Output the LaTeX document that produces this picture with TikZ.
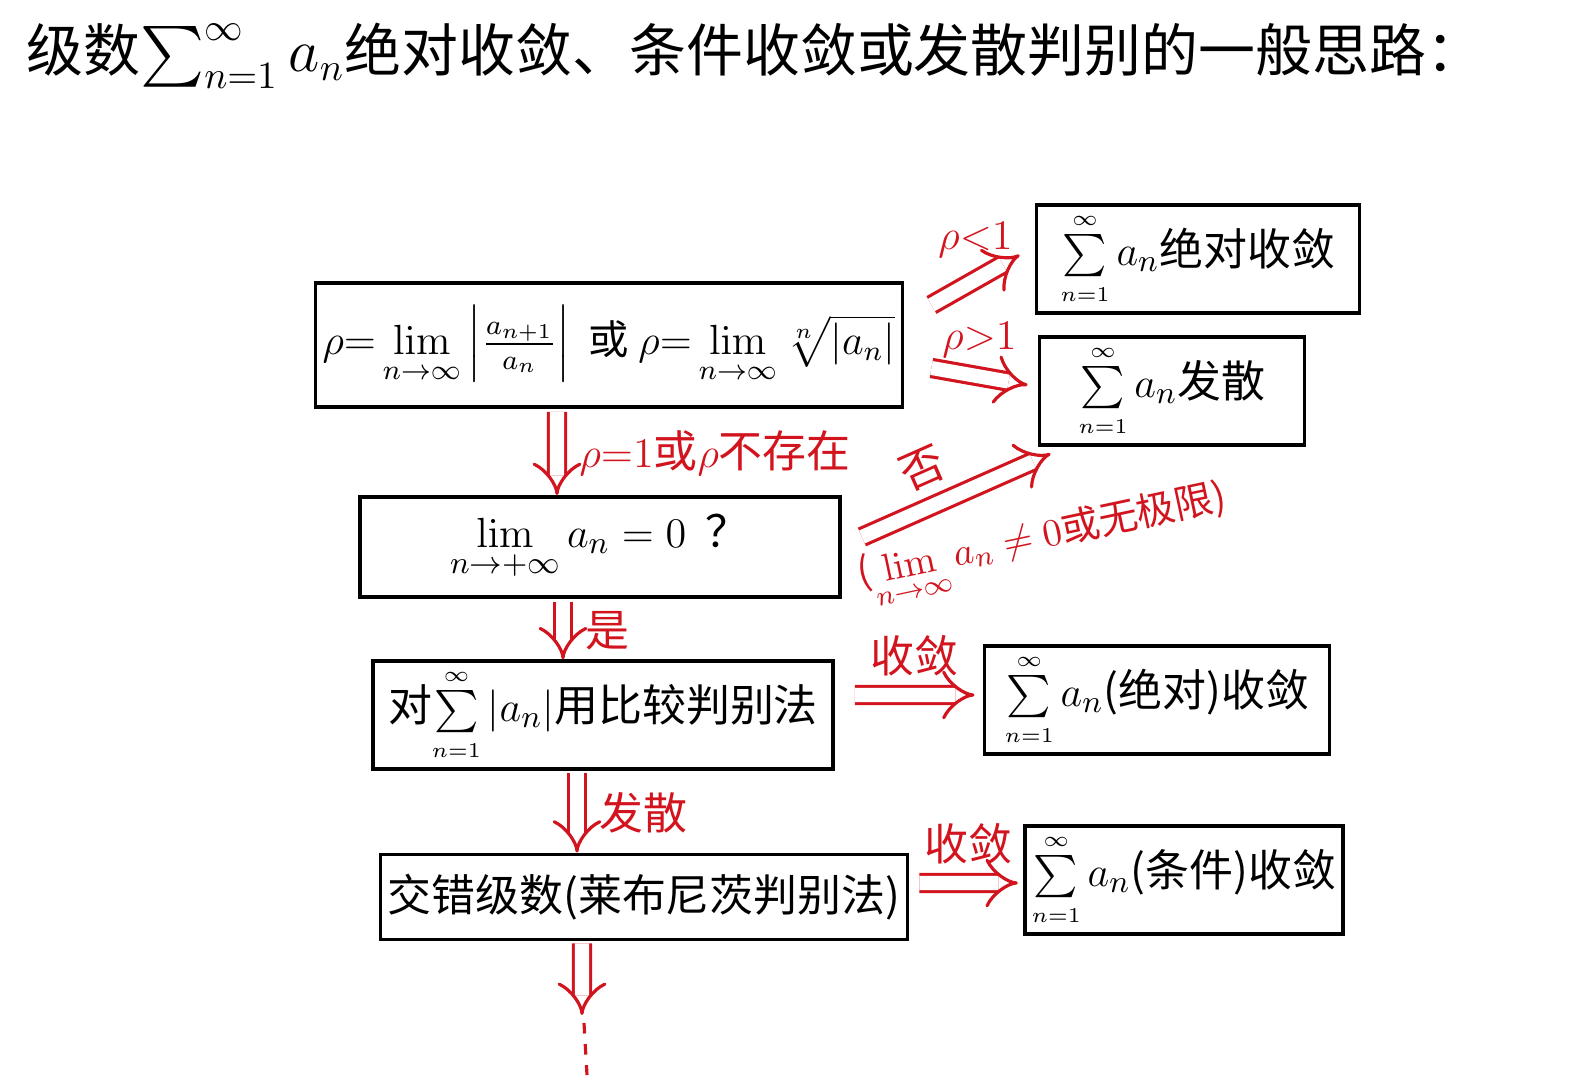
\documentclass[tikz,border=0pt]{standalone}
\usepackage{amsmath}
\usepackage[no-math]{fontspec}
\setmainfont{Noto Sans CJK SC}
\usetikzlibrary{arrows.meta,calc}
\definecolor{penred}{RGB}{210,20,30}
\newcommand\bxfont{\fontsize{12.5}{15}\selectfont}
\newcommand\lbfont{\fontsize{12.5}{15}\selectfont}
\newcommand\ssum{\mathop{\textstyle\sum}\limits_{\scriptscriptstyle n=1}^{\scriptscriptstyle\infty}}

\begin{document}
\begin{tikzpicture}[
  box/.style={draw,line width=1.1pt,inner sep=2pt,font=\bxfont},
  imp/.style={draw=penred,double,double distance=4pt,line width=0.9pt,-{Implies}},
  lbl/.style={text=penred,font=\lbfont,inner sep=2pt}]
  \useasboundingbox (0,0) rectangle (15.69,-10.81);
  % title
  \node[anchor=west,font=\fontsize{16.2}{20}\selectfont] (title) at (0.14,-0.56)
    {级数$\sum_{n=1}^{\infty}a_n$绝对收敛、条件收敛或发散判别的一般思路：};
  % main column
  \node[box,minimum width=5.68cm,minimum height=1.24cm,font=\fontsize{11.5}{14}\selectfont] (ratio) at (6.09,-3.45)
    {$\rho{=}\lim\limits_{n\to\infty}\left|\frac{a_{n+1}}{a_n}\right|$ \ 或 $\rho{=}\lim\limits_{n\to\infty}\sqrt[n]{|a_n|}$};
  \node[box,minimum width=4.80cm,minimum height=1.00cm] (lim) at (6.00,-5.47)
    {$\lim\limits_{n\to+\infty}a_n=0$ \ ？\hspace{1.5cm}};
  \node[box,minimum width=4.60cm,minimum height=0.95cm] (cmp) at (6.03,-7.15)
    {对$\ssum|a_n|$用比较判别法};
  \node[box,minimum width=5.18cm,minimum height=0.85cm] (alt) at (6.44,-8.97)
    {交错级数(莱布尼茨判别法)};
  % results
  \node[box,minimum width=3.23cm,minimum height=0.96cm] (abs1) at (11.98,-2.59)
    {$\ssum a_n$绝对收敛};
  \node[box,minimum width=2.65cm,minimum height=1.03cm] (div) at (11.72,-3.91)
    {$\ssum a_n$发散\hspace{0.3cm}};
  \node[box,minimum width=3.45cm,minimum height=0.85cm] (abs2) at (11.57,-7.00)
    {$\ssum a_n$(绝对)收敛};
  \node[box,minimum width=2.98cm,minimum height=0.86cm] (cond) at (11.84,-8.80)
    {$\ssum a_n$(条件)收敛};
  % arrows
  \draw[imp] ($(ratio.east)+(0.27,0.40)$) -- ($(abs1.west)+(-0.15,0.04)$)
    node[lbl,midway,above=4pt] {$\rho{<}1$};
  \draw[imp] ($(ratio.east)+(0.27,-0.23)$) -- ($(div.west)+(-0.10,0.06)$)
    node[lbl,midway,above=3pt] {$\rho{>}1$};
  \draw[imp] ($(ratio.south)+(-0.52,-0.03)$) -- ($(lim.north)+(-0.43,0)$)
    node[lbl,midway,right=4pt] {$\rho{=}1$或$\rho$不存在};
  \draw[imp] ($(lim.east)+(0.20,0.10)$) -- ($(div.south west)+(0.13,-0.07)$)
    node[lbl,pos=0.4,above=3pt,sloped] {否};
  \node[lbl,rotate=12,font=\fontsize{11}{13}\selectfont] (why) at ($(lim.east)+(2.02,0.02)$)
    {($\lim\limits_{n\to\infty}a_n\neq0$或无极限)};
  \draw[imp] ($(lim.south)+(-0.37,-0.03)$) -- ($(cmp.north)+(-0.40,0)$)
    node[lbl,midway,right=4pt] {是};
  \draw[imp] ($(cmp.east)+(0.20,0.20)$) -- ($(abs2.west)+(-0.08,0.05)$)
    node[lbl,midway,above=3pt] {收敛};
  \draw[imp] ($(cmp.south)+(-0.26,-0.02)$) -- ($(alt.north)+(-0.67,0)$)
    node[lbl,midway,right=4pt] {发散};
  \draw[imp] ($(alt.east)+(0.10,0.14)$) -- ($(cond.west)+(-0.05,-0.03)$)
    node[lbl,midway,above=3pt] {收敛};
  \coordinate (more) at (5.82,-10.15);
  \draw[imp] ($(alt.south)+(-0.62,-0.02)$) -- (more);
  \draw[penred,line width=0.9pt,dashed] ($(more)+(0.02,-0.08)$) -- (5.87,-10.75);
\end{tikzpicture}
\end{document}
